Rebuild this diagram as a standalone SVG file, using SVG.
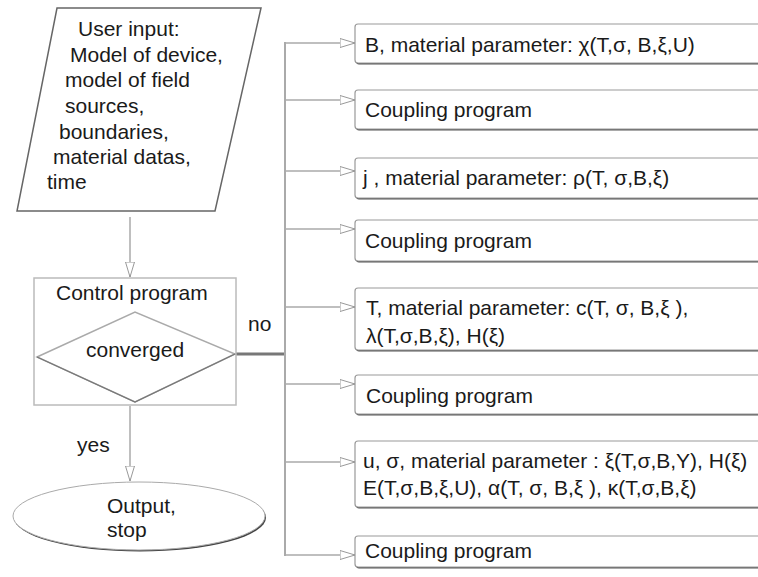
<svg xmlns="http://www.w3.org/2000/svg" width="758" height="577" viewBox="0 0 758 577">
<style>
text{font-family:"Liberation Sans",Arial,sans-serif;font-size:21px;fill:#1a1a1a}
.conn{stroke:#aaa;stroke-width:1.5;fill:none}
.box{fill:#fff;stroke:#999;stroke-width:1.2}
.shadow{fill:#555}
</style>
<defs>
<marker id="arr" markerUnits="userSpaceOnUse" markerWidth="17" markerHeight="11" refX="15.5" refY="5" orient="auto" viewBox="0 0 17 11">
<path d="M0.5,0.5 L15.5,5 L0.5,9.5 Z" fill="#fff" stroke="#999" stroke-width="1"/>
</marker>
</defs>
<rect width="758" height="577" fill="#fff"/>

<g id="connectors">
<line class="conn" x1="130" y1="217" x2="130" y2="277" marker-end="url(#arr)"/>
<line class="conn" x1="130" y1="406" x2="130" y2="481" marker-end="url(#arr)"/>
<line x1="235" y1="354" x2="285" y2="354" stroke="#777" stroke-width="3"/>
<line x1="285" y1="42" x2="285" y2="556" stroke="#aaa" stroke-width="2"/>
<line class="conn" x1="285" y1="43" x2="355" y2="43" marker-end="url(#arr)"/>
<line class="conn" x1="285" y1="100" x2="355" y2="100" marker-end="url(#arr)"/>
<line class="conn" x1="285" y1="171" x2="355" y2="171" marker-end="url(#arr)"/>
<line class="conn" x1="285" y1="229" x2="355" y2="229" marker-end="url(#arr)"/>
<line class="conn" x1="285" y1="307" x2="355" y2="307" marker-end="url(#arr)"/>
<line class="conn" x1="285" y1="384" x2="355" y2="384" marker-end="url(#arr)"/>
<line class="conn" x1="285" y1="462" x2="355" y2="462" marker-end="url(#arr)"/>
<line class="conn" x1="285" y1="555" x2="355" y2="555" marker-end="url(#arr)"/>
<text x="248" y="331">no</text>
<text x="77" y="452">yes</text>
</g>

<g id="user-input">
<polygon points="57,8 261,8 215,211 17,211" fill="#fff" stroke="#666" stroke-width="1.5"/>
<text x="78" y="36">User input:</text>
<text x="70" y="62">Model of device,</text>
<text x="65" y="87">model of field</text>
<text x="65" y="113">sources,</text>
<text x="59" y="139">boundaries,</text>
<text x="53" y="164">material datas,</text>
<text x="47" y="189">time</text>
</g>

<g id="control-program">
<rect x="34" y="278" width="202" height="127" fill="#fff" stroke="#bbb" stroke-width="1.5"/>
<text x="56" y="300">Control program</text>
<polygon points="37,357 135,312 235,354 135,402" fill="#fff" stroke="#aaa" stroke-width="1.5"/>
<path d="M37,357 L135,402 L235,354" fill="none" stroke="#777" stroke-width="1.2"/>
<text x="86" y="357">converged</text>
</g>

<g id="output">
<ellipse cx="140" cy="517.5" rx="126" ry="34" fill="#444"/>
<ellipse cx="139" cy="516" rx="126" ry="34" fill="#fff" stroke="#aaa" stroke-width="1"/>
<text x="107" y="513">Output,</text>
<text x="107" y="537">stop</text>
</g>

<g id="box-B">
<rect class="shadow" x="356" y="25.5" width="420" height="39" rx="3"/>
<rect class="box" x="355" y="24" width="420" height="39" rx="3"/>
<text x="365" y="52">B, material parameter: χ(T,σ, B,ξ,U)</text>
</g>

<g id="coupling-1">
<rect class="shadow" x="356" y="91.5" width="420" height="39" rx="3"/>
<rect class="box" x="355" y="90" width="420" height="39" rx="3"/>
<text x="365" y="117">Coupling program</text>
</g>

<g id="box-j">
<rect class="shadow" x="356" y="159.5" width="420" height="40" rx="3"/>
<rect class="box" x="355" y="158" width="420" height="40" rx="3"/>
<text x="363" y="185">j , material parameter: ρ(T, σ,B,ξ)</text>
</g>

<g id="coupling-2">
<rect class="shadow" x="356" y="221.5" width="420" height="41" rx="3"/>
<rect class="box" x="355" y="220" width="420" height="41" rx="3"/>
<text x="365" y="248">Coupling program</text>
</g>

<g id="box-T">
<rect class="shadow" x="356" y="289.5" width="420" height="62" rx="3"/>
<rect class="box" x="355" y="288" width="420" height="62" rx="3"/>
<text x="366" y="315">T, material parameter: c(T, σ, B,ξ  ),</text>
<text x="366" y="343">λ(T,σ,B,ξ), H(ξ)</text>
</g>

<g id="coupling-3">
<rect class="shadow" x="356" y="376.5" width="420" height="39" rx="3"/>
<rect class="box" x="355" y="375" width="420" height="39" rx="3"/>
<text x="366" y="403">Coupling program</text>
</g>

<g id="box-u">
<rect class="shadow" x="356" y="442.5" width="420" height="66" rx="3"/>
<rect class="box" x="355" y="441" width="420" height="66" rx="3"/>
<text x="363" y="468">u, σ, material parameter :  ξ(T,σ,B,Y), H(ξ)</text>
<text x="363" y="495">E(T,σ,B,ξ,U), α(T, σ, B,ξ ), κ(T,σ,B,ξ)</text>
</g>

<g id="coupling-4">
<rect class="shadow" x="356" y="537.5" width="420" height="31" rx="3"/>
<rect class="box" x="355" y="536" width="420" height="31" rx="3"/>
<text x="365" y="558">Coupling program</text>
</g>
</svg>
